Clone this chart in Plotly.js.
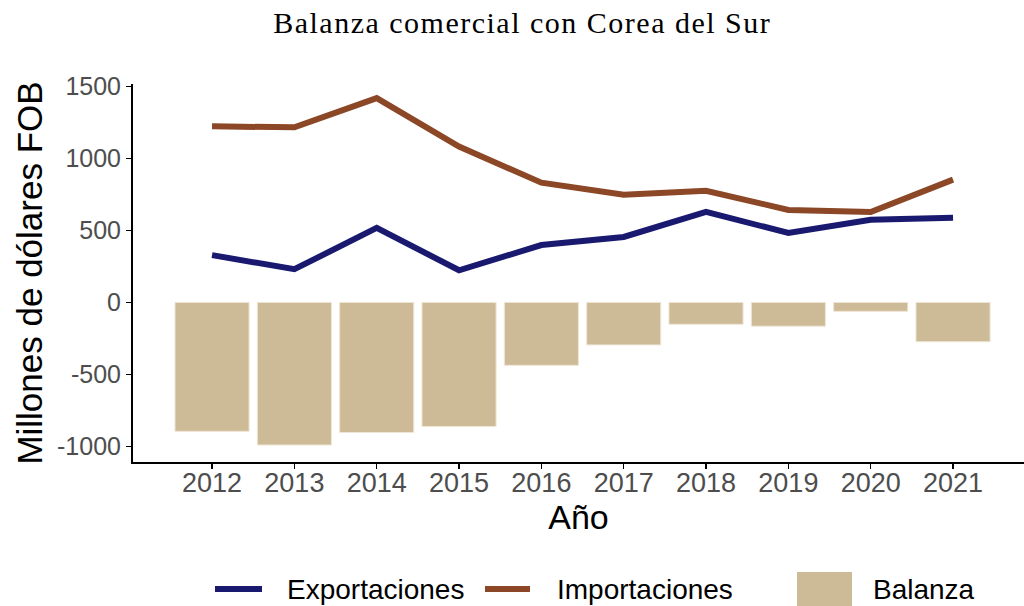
<!DOCTYPE html>
<html>
<head>
<meta charset="utf-8">
<script src="https://cdn.plot.ly/plotly-3.0.1.min.js"></script>
<style>html,body{margin:0;padding:0;background:#fff;}#chart{width:1024px;height:606px;}
.gtitle{letter-spacing:1.5px;}</style>
</head>
<body>
<div id="chart"></div>
<script>
const years = [2012, 2013, 2014, 2015, 2016, 2017, 2018, 2019, 2020, 2021];
const exportaciones = [328, 230, 517, 223, 398, 454, 628, 482, 573, 587];
const importaciones = [1222, 1215, 1418, 1082, 831, 747, 775, 642, 628, 852];
const balanza = [-895, -990, -903, -862, -437, -295, -152, -165, -62, -273];
const yTicks = [-1000, -500, 0, 500, 1000, 1500];

const traces = [
  {type: 'scatter', mode: 'lines', name: 'Exportaciones', x: years, y: exportaciones,
   line: {color: '#191970', width: 6}},
  {type: 'scatter', mode: 'lines', name: 'Importaciones', x: years, y: importaciones,
   line: {color: '#8B4726', width: 6}},
  {type: 'bar', name: 'Balanza', x: years, y: balanza, width: 0.9,
   marker: {color: '#CDBA96', line: {color: '#EFE6D6', width: 1}}}
];

const layout = {
  width: 1024, height: 606,
  margin: {l: 133, r: 0, t: 84, b: 144},
  paper_bgcolor: '#fff', plot_bgcolor: '#fff',
  title: {text: 'Balanza comercial con Corea del Sur', x: 0.51, xref: 'container', y: 0.963, yref: 'container',
          xanchor: 'center', yanchor: 'middle',
          font: {family: 'Liberation Serif, DejaVu Serif, serif', size: 30, color: '#000'}},
  xaxis: {range: [2011.04, 2021.862], tickvals: years, ticktext: years.map(String),
          showgrid: false, zeroline: false, showline: true, linecolor: '#000', linewidth: 2,
          ticks: 'outside', ticklen: 5, tickcolor: '#000', tickwidth: 1.5,
          ticklabelstandoff: -9,
          tickfont: {family: 'Liberation Sans, Arial, sans-serif', size: 27, color: '#4d4d4d'},
          title: {text: 'Año', standoff: 0, font: {family: 'Liberation Sans, Arial, sans-serif', size: 34, color: '#000'}}},
  yaxis: {range: [-1108, 1516], tickvals: yTicks, ticktext: yTicks.map(String),
          showgrid: false, zeroline: false, showline: true, linecolor: '#000', linewidth: 2,
          ticks: 'outside', ticklen: 5, tickcolor: '#000', tickwidth: 1.5,
          tickfont: {family: 'Liberation Sans, Arial, sans-serif', size: 25, color: '#4d4d4d'},
          title: {text: 'Millones de dólares FOB', standoff: 4, font: {family: 'Liberation Sans, Arial, sans-serif', size: 35, color: '#000'}}},
  showlegend: true,
  legend: {orientation: 'h', x: 0.5, xref: 'container', xanchor: 'center', y: 0.03, yref: 'container', yanchor: 'middle',
           traceorder: 'normal', font: {family: 'Liberation Sans, Arial, sans-serif', size: 28, color: '#000'},
           itemwidth: 40},
  bargap: 0.1
};

// legend key placement (screen px) to mimic the reference layout
const legendPlace = [
  {text: 287, s0: 215, s1: 262, box: false},
  {text: 557, s0: 485, s1: 530, box: false},
  {text: 873, s0: 797, s1: 852, box: true}
];
const legendMidY = 589;

Plotly.newPlot('chart', traces, layout, {displayModeBar: false, staticPlot: true}).then(function (gd) {
  const svg = gd.querySelector('svg.main-svg');
  gd.querySelectorAll('.legend [clip-path]').forEach(function (el) { el.removeAttribute('clip-path'); });
  const items = gd.querySelectorAll('.legend .traces');
  items.forEach(function (g, i) {
    const spec = legendPlace[i];
    if (!spec) return;
    const txt = g.querySelector('text.legendtext');
    const r = txt.getBoundingClientRect();
    const dx = spec.text - r.left;
    const dy = legendMidY - (r.top + r.height / 2);
    const m = /translate\(([-\d.e]+)[ ,]+([-\d.e]+)\)/.exec(g.getAttribute('transform') || '');
    const tx = m ? parseFloat(m[1]) : 0, ty = m ? parseFloat(m[2]) : 0;
    g.setAttribute('transform', 'translate(' + (tx + dx) + ',' + (ty + dy) + ')');
    const paths = g.querySelectorAll('.legendlines path, .legendpoints path');
    paths.forEach(function (p) {
      const inv = p.getScreenCTM().inverse();
      const pt = svg.createSVGPoint();
      if (spec.box) {
        pt.x = spec.s0; pt.y = legendMidY - 17; const a = pt.matrixTransform(inv);
        pt.x = spec.s1; pt.y = legendMidY + 17; const b = pt.matrixTransform(inv);
        p.setAttribute('d', 'M' + a.x + ',' + a.y + 'H' + b.x + 'V' + b.y + 'H' + a.x + 'Z');
        p.style.strokeWidth = '0px';
      } else {
        pt.x = spec.s0; pt.y = legendMidY; const a = pt.matrixTransform(inv);
        pt.x = spec.s1; pt.y = legendMidY; const b = pt.matrixTransform(inv);
        p.setAttribute('d', 'M' + a.x + ',' + a.y + 'H' + b.x);
      }
    });
  });
});
</script>
</body>
</html>
